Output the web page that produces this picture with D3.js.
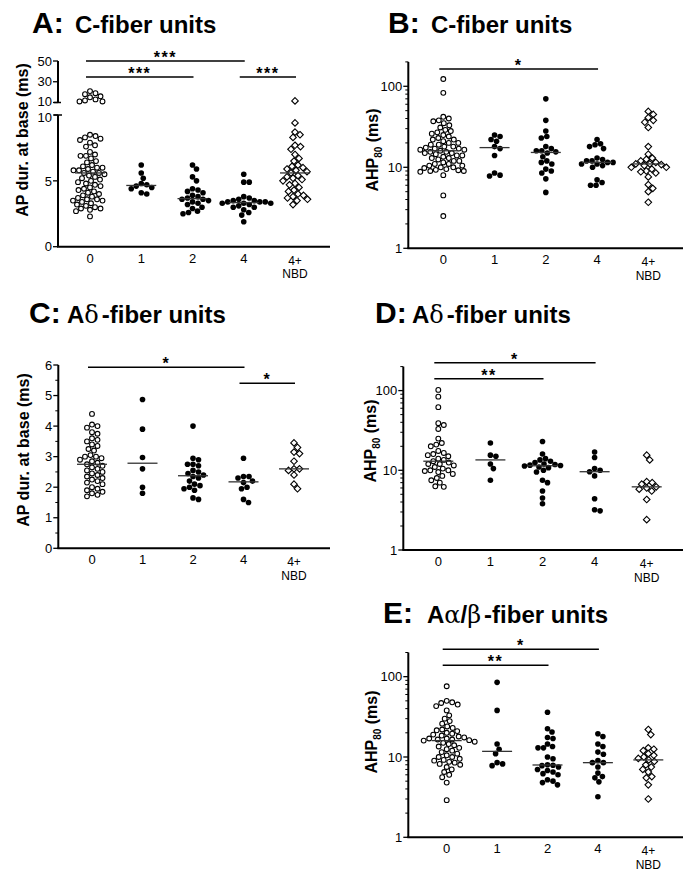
<!DOCTYPE html>
<html>
<head>
<meta charset="utf-8">
<script src="https://cdn.jsdelivr.net/npm/d3@7"></script>
<style>
  body { margin: 0; background: #fff; }
  svg { display: block; font-family: 'Liberation Sans', Arial, Helvetica, sans-serif; }
</style>
</head>
<body>
<div id="figure"></div>
<script>
// groups along the x axis (last one is drawn with open diamonds)
const categories = ['0', '1', '2', '4', '4+NBD']
const categoryLabels = [['0'], ['1'], ['2'], ['4'], ['4+', 'NBD']]

// A: C-fiber units, AP duration at base (ms)
const apDurC = [
  [21, 19, 18, 16, 15, 13, 12, 11, 11,
    8.5, 8.4, 8.3, 8.2, 8.1, 7.9, 7.7, 7.6, 7.2, 7.0, 6.9, 6.9, 6.7, 6.5, 6.4, 6.2, 6.1, 6.0, 6.0, 5.9,
    5.8, 5.8, 5.7, 5.6, 5.6, 5.5, 5.4, 5.3, 5.2, 5.1, 5.0, 4.9, 4.8, 4.7, 4.6, 4.5, 4.4, 4.3, 4.2, 4.1,
    4.0, 3.9, 3.8, 3.7, 3.6, 3.6, 3.5, 3.5, 3.4, 3.3, 3.2, 3.1, 3.0, 2.9, 2.9, 2.8, 2.7, 2.3],
  [6.2, 5.6, 5.2, 4.8, 4.7, 4.6, 4.5, 4.4, 4.1, 4.0],
  [6.2, 5.9, 5.3, 5.0, 4.4, 4.3, 4.2, 4.1, 3.9, 3.8, 3.7, 3.6, 3.6, 3.5, 3.4, 3.3, 3.2, 3.0, 2.9, 2.7, 2.6, 2.5],
  [5.5, 4.9, 4.9, 3.8, 3.7, 3.6, 3.5, 3.5, 3.4, 3.4, 3.4, 3.3, 3.3, 3.3, 3.2, 3.1, 3.0, 3.0, 2.8, 2.6, 2.4, 1.9],
  [11.5, 9.4, 8.7, 8.5, 8.3, 7.7, 7.6, 7.4, 7.0, 6.7, 6.5, 6.2, 6.1, 6.0, 5.9, 5.8, 5.7, 5.6,
    5.4, 5.3, 5.2, 5.1, 5.0, 4.8, 4.7, 4.5, 4.3, 4.2, 4.0, 3.9, 3.8, 3.7, 3.6, 3.5, 3.2]
]

// B: C-fiber units, AHP80 (ms)
const ahpC = [
  [123, 83, 42, 40, 38, 37, 35, 33, 31, 29, 28, 27, 26, 25, 24, 23, 22, 22, 21, 20, 20, 19, 19, 18, 18,
    17.5, 17, 17, 16.5, 16.5, 16, 15.5, 15.5, 15, 15, 14.5, 14, 14, 13.5, 13, 13, 12.5, 12, 12, 11.5,
    11, 11, 10.5, 10.5, 10, 10, 9.8, 9.5, 9.3, 9.2, 9, 9, 8.8, 8, 4.5, 2.5],
  [25, 24, 22, 21, 18, 17, 14, 8.5, 8, 7.8],
  [70, 38, 28, 24, 23, 18, 17, 16, 16, 15.5, 15, 13.5, 12, 11.5, 11, 9.5, 9, 8.5, 7.2, 4.9],
  [22, 19.5, 19, 18, 17, 13, 12.5, 12, 12, 11.5, 11.5, 11, 11, 10.5, 10, 7, 6.5, 6, 6],
  [49, 45, 41, 38, 36, 31, 18, 14.5, 13, 12.5, 12, 11.5, 11, 11, 10.8, 10.5, 10, 10, 9.5, 9, 8.8, 8.5,
    7.6, 6.1, 5.5, 5, 3.7]
]

// C: A-delta-fiber units, AP duration at base (ms)
const apDurAd = [
  [4.4, 4.05, 4.0, 3.95, 3.8, 3.75, 3.6, 3.55, 3.5, 3.4, 3.35, 3.25, 3.2, 3.05, 3.0, 3.0, 2.95, 2.9,
    2.85, 2.8, 2.75, 2.7, 2.65, 2.6, 2.55, 2.5, 2.45, 2.4, 2.35, 2.3, 2.25, 2.2, 2.15, 2.1, 2.0, 1.95,
    1.9, 1.85, 1.8, 1.75, 1.7],
  [4.87, 3.9, 2.97, 2.6, 2.0, 1.8],
  [4.0, 2.95, 2.9, 2.75, 2.75, 2.7, 2.55, 2.5, 2.45, 2.4, 2.35, 2.3, 2.2, 2.1, 2.05, 2.0, 1.95, 1.9, 1.65, 1.6],
  [2.95, 2.35, 2.35, 2.3, 2.2, 2.15, 2.0, 1.95, 1.6, 1.5],
  [3.45, 3.3, 3.15, 3.1, 2.85, 2.6, 2.6, 2.55, 2.4, 2.1, 1.95]
]

// D: A-delta-fiber units, AHP80 (ms)
const ahpAd = [
  [102, 84, 62, 39, 37, 33, 25, 22, 21, 20, 17.5, 16.5, 16, 15.5, 15, 14, 13.5, 13,
    12.5, 12, 12, 11.5, 11, 10.5, 10, 10, 9.8, 9.5, 9, 8.5, 8, 7.5, 7, 6.3, 6.2],
  [22, 15.5, 15, 12, 10.5, 7.5],
  [23, 16, 14, 13.5, 13, 12.5, 12, 11.8, 11.6, 11.5, 11.3, 11, 10.8, 10, 9.5, 7.5, 7, 5.5, 4.5, 3.8],
  [17, 14.5, 10.5, 10, 9.6, 8.5, 4.4, 3.2, 3.1],
  [15.5, 13.5, 7.2, 7.0, 6.7, 6.2, 6.0, 5.8, 5.5, 4.3, 2.4]
]

// E: A-alpha/beta-fiber units, AHP80 (ms)
const ahpAab = [
  [76, 50, 48, 47, 45, 43, 38, 33, 30, 28, 26, 24, 23, 22, 21.5, 21, 20, 19.5, 19, 18.5, 18, 17.5, 17,
    17, 16.5, 16.5, 16.2, 16, 15.5, 15, 14.5, 14, 13.5, 13, 12.5, 12, 11.5, 11, 10.5, 10, 10, 9.5, 9.2,
    9, 8.7, 8.5, 8.2, 8, 7.5, 7, 6.5, 6, 5.6, 4.8, 2.9],
  [85, 38, 14.5, 12.5, 11, 8.5, 8.2, 7.8],
  [36, 22.5, 20.5, 17.5, 17, 14.5, 13.5, 13, 13, 10, 9.5, 8, 7.9, 7.8, 7.5, 7, 6.8, 6.5, 6.2, 6, 5.2, 5, 4.8, 4.5],
  [19.5, 18, 14.5, 13.5, 11.5, 10.8, 9, 8.5, 8.5, 7.5, 6.3, 5.7, 5.5, 4.9, 3.2],
  [22, 19, 13, 12.5, 12, 11, 10.5, 10, 9.6, 9.2, 8.8, 8, 7.5, 7, 6.5, 5.7, 5.5, 4.5, 3.0]
]

// tick labels
const ticksLow = [0, 5, 10]
const ticksHigh = [10, 30, 50]
const ticksLinear6 = [0, 1, 2, 3, 4, 5, 6]
const ticksLog = [1, 10, 100]

// significance comparisons
const sigA = [{ from: '0', to: '4', level: 0, label: '***' }, { from: '0', to: '2', level: 1, label: '***' }, { from: '4', to: '4+NBD', level: 1, label: '***' }]
const sigB = [{ from: '0', to: '4', level: 0, label: '*' }]
const sigC = [{ from: '0', to: '4', level: 0, label: '*' }, { from: '4', to: '4+NBD', level: 1, label: '*' }]
const sigD = [{ from: '0', to: '4', level: 0, label: '*' }, { from: '0', to: '2', level: 1, label: '**' }]
const sigE = [{ from: '0', to: '4', level: 0, label: '*' }, { from: '0', to: '2', level: 1, label: '**' }]

const width = 691
const height = 871

const svg = d3.create('svg')
  .attr('width', width)
  .attr('height', height)
  .attr('viewBox', [0, 0, width, height])

svg.append('rect').attr('width', width).attr('height', height).attr('fill', 'white')

// greedy beeswarm: points sorted by pixel y, each pushed sideways until it clears the placed ones
const swarm = (vals, cx, y, minDist = 5.5, step = 0.5) => {
  const placed = []
  const pts = d3.sort(vals.map(v => ({ v, py: y(v) })), d => d.py)
  for (const p of pts) {
    let off = 0
    for (let k = 0; k < 400; k++) {
      const cand = k === 0 ? 0 : (k % 2 ? 1 : -1) * Math.ceil(k / 2) * step
      if (placed.every(q => Math.hypot(q.px - (cx + cand), q.py - p.py) >= minDist)) { off = cand; break }
    }
    p.px = cx + off
    placed.push(p)
  }
  return placed
}

const drawTitle = (letter, parts, x, y, subX) => {
  svg.append('text').attr('x', x).attr('y', y)
    .attr('font-weight', 'bold').attr('font-size', 30).text(letter)
  const s = svg.append('text').attr('x', subX).attr('y', y).attr('font-weight', 'bold').attr('font-size', 24)
  parts.forEach(([txt, greek, dx]) => {
    s.append('tspan')
      .attr('font-family', greek ? "'DejaVu Serif', 'Liberation Serif', serif" : null)
      .attr('font-weight', greek ? 'normal' : null)
      .attr('dx', dx || null)
      .text(txt)
  })
}

const drawYLabel = (x, y, ahp) => {
  const t = svg.append('text')
    .attr('transform', `translate(${x},${y}) rotate(-90)`)
    .attr('text-anchor', 'middle')
    .attr('font-size', 16)
    .attr('font-weight', 'bold')
  if (ahp) {
    t.append('tspan').text('AHP')
    t.append('tspan').attr('font-size', 10).attr('dy', 4).text('80')
    t.append('tspan').attr('dy', -4).text(' (ms)')
  } else {
    t.text('AP dur. at base (ms)')
  }
}

const tickLabel = (g, x, y, txt, dy = '0.36em') =>
  g.append('text').attr('x', x).attr('y', y).attr('dy', dy).attr('text-anchor', 'end')
    .attr('font-size', 13).text(txt)

const drawPanel = ({ data, axisX, bottom, right, xRange, y, yTop, majors, minors, sig, sigTop, label, breakAxis }) => {
  const g = svg.append('g')
  const x = d3.scalePoint().domain(categories).range(xRange)

  // y axis
  if (breakAxis) {
    const { low, high } = breakAxis
    g.append('line').attr('x1', axisX).attr('x2', axisX).attr('y1', high(50)).attr('y2', high(10))
      .attr('stroke', '#000').attr('stroke-width', 2)
    g.append('line').attr('x1', axisX).attr('x2', axisX).attr('y1', low(10)).attr('y2', bottom)
      .attr('stroke', '#000').attr('stroke-width', 2)
    g.append('line').attr('x1', axisX - 4).attr('x2', axisX + 3).attr('y1', high(10)).attr('y2', high(10))
      .attr('stroke', '#000').attr('stroke-width', 1.5)
    g.append('line').attr('x1', axisX - 4).attr('x2', axisX + 4).attr('y1', low(10)).attr('y2', low(10))
      .attr('stroke', '#000').attr('stroke-width', 1.5)
    ticksLow.forEach(v => {
      g.append('line').attr('x1', axisX - 5).attr('x2', axisX).attr('y1', low(v)).attr('y2', low(v)).attr('stroke', '#000').attr('stroke-width', 1.3)
      tickLabel(g, axisX - 6, low(v), v, v === 10 ? '0.5em' : '0.36em')
    })
    ticksHigh.forEach(v => {
      g.append('line').attr('x1', axisX - 5).attr('x2', axisX).attr('y1', high(v)).attr('y2', high(v)).attr('stroke', '#000').attr('stroke-width', 1.3)
      tickLabel(g, axisX - 6, high(v), v, v === 10 ? '0.25em' : '0.36em')
    })
  } else {
    g.append('line').attr('x1', axisX).attr('x2', axisX).attr('y1', yTop).attr('y2', bottom)
      .attr('stroke', '#000').attr('stroke-width', 2)
    minors.forEach(v => {
      g.append('line').attr('x1', axisX - 3).attr('x2', axisX).attr('y1', y(v)).attr('y2', y(v)).attr('stroke', '#000').attr('stroke-width', 1)
    })
    majors.forEach(v => {
      g.append('line').attr('x1', axisX - 5).attr('x2', axisX).attr('y1', y(v)).attr('y2', y(v)).attr('stroke', '#000').attr('stroke-width', 1.3)
      tickLabel(g, axisX - 6, y(v), v)
    })
  }

  // x axis
  g.append('line').attr('x1', axisX - 1).attr('x2', right).attr('y1', bottom).attr('y2', bottom)
    .attr('stroke', '#000').attr('stroke-width', 2)
  categories.forEach((c, i) => {
    const lines = categoryLabels[i]
    lines.forEach((line, j) => {
      g.append('text').attr('text-anchor', 'middle')
        .attr('font-size', lines.length > 1 ? 12 : 13)
        .attr('x', x(c))
        .attr('y', bottom + (lines.length > 1 ? 18 + j * 13.6 : 16))
        .text(line)
    })
  })

  // points
  data.forEach((vals, i) => {
    const c = categories[i]
    const pts = swarm(vals, x(c), y)
    const diamond = i === 4
    const filled = i > 0 && i < 4
    if (diamond) {
      g.append('g').selectAll('path').data(pts).join('path')
        .attr('d', d => `M${d.px},${d.py - 3.3}L${d.px + 3.3},${d.py}L${d.px},${d.py + 3.3}L${d.px - 3.3},${d.py}Z`)
        .attr('fill', 'white').attr('stroke', '#000').attr('stroke-width', 1.1)
    } else {
      g.append('g').selectAll('circle').data(pts).join('circle')
        .attr('cx', d => d.px).attr('cy', d => d.py)
        .attr('r', filled ? 2.8 : 2.4)
        .attr('fill', filled ? '#000' : 'white')
        .attr('stroke', '#000').attr('stroke-width', filled ? 0 : 1.1)
    }
    const med = d3.median(vals)
    g.append('line').attr('x1', x(c) - 15).attr('x2', x(c) + 15).attr('y1', y(med)).attr('y2', y(med))
      .attr('stroke', '#333').attr('stroke-width', 1.3)
  })

  // significance bars
  sig.forEach(s => {
    const ly = sigTop + s.level * 16
    const x1 = x(s.from) - 4
    const x2 = x(s.to) + 1
    g.append('line').attr('x1', x1).attr('x2', x2).attr('y1', ly).attr('y2', ly).attr('stroke', '#000').attr('stroke-width', 1.6)
    g.append('text').attr('x', (x1 + x2) / 2).attr('y', ly + 2).attr('text-anchor', 'middle')
      .attr('font-size', 16).attr('font-weight', 'bold').attr('letter-spacing', 1.5).text(s.label)
  })

  drawYLabel(label[0], label[1], label[2])
}

const logMinors = (lo, hi) => {
  const out = []
  for (let d = lo; d < hi; d *= 10) for (let k = 2; k <= 9; k++) if (d * k <= hi) out.push(d * k)
  return out
}

// panel A: broken linear axis
const yLowA = d3.scaleLinear().domain([0, 10]).range([246.7, 115])
const yHighA = d3.scaleLinear().domain([10, 50]).range([102.5, 61])
const yA = v => v > 10 ? yHighA(v) : yLowA(v)

drawTitle('A:', [['C-fiber units']], 32, 33, 75)
drawPanel({ data: apDurC, axisX: 58, bottom: 246.7, right: 330, xRange: [90, 295], y: yA,
  breakAxis: { low: yLowA, high: yHighA }, sig: sigA, sigTop: 61, label: [28, 140, false] })

// panel B
const yB = d3.scaleLog().domain([1, 200]).range([248.3, 61.9])
drawTitle('B:', [['C-fiber units']], 388, 33, 431)
drawPanel({ data: ahpC, axisX: 408.3, bottom: 248.3, right: 683, xRange: [443.3, 648.3], y: yB, yTop: 61.9,
  majors: ticksLog, minors: logMinors(1, 200), sig: sigB, sigTop: 69, label: [378, 150, true] })

// panel C
const yC = d3.scaleLinear().domain([0, 6]).range([548.3, 365])
drawTitle('C:', [['A'], ['δ', true], ['-fiber units', false, 3]], 29, 323, 67)
drawPanel({ data: apDurAd, axisX: 58.3, bottom: 548.3, right: 330, xRange: [92, 294], y: yC, yTop: 365,
  majors: ticksLinear6, minors: d3.range(0.5, 6, 1), sig: sigC, sigTop: 367.3, label: [29, 450, false] })

// panel D
const yD = d3.scaleLog().domain([1, 200]).range([550, 366.6])
drawTitle('D:', [['A'], ['δ', true], ['-fiber units', false, 3]], 375, 323, 412)
drawPanel({ data: ahpAd, axisX: 403.3, bottom: 550, right: 683, xRange: [438.3, 646.7], y: yD, yTop: 366.6,
  majors: ticksLog, minors: logMinors(1, 200), sig: sigD, sigTop: 362.7, label: [376, 441, true] })

// panel E
const yE = d3.scaleLog().domain([1, 200]).range([837.3, 652.5])
drawTitle('E:', [['A'], ['α', true], ['/'], ['β', true], ['-fiber units', false, 3]], 383, 623, 427)
drawPanel({ data: ahpAab, axisX: 408.3, bottom: 837.3, right: 683, xRange: [446.7, 648.3], y: yE, yTop: 652.5,
  majors: ticksLog, minors: logMinors(1, 200), sig: sigE, sigTop: 649.3, label: [377, 732, true] })

d3.select('#figure').append(() => svg.node())
</script>
</body>
</html>
